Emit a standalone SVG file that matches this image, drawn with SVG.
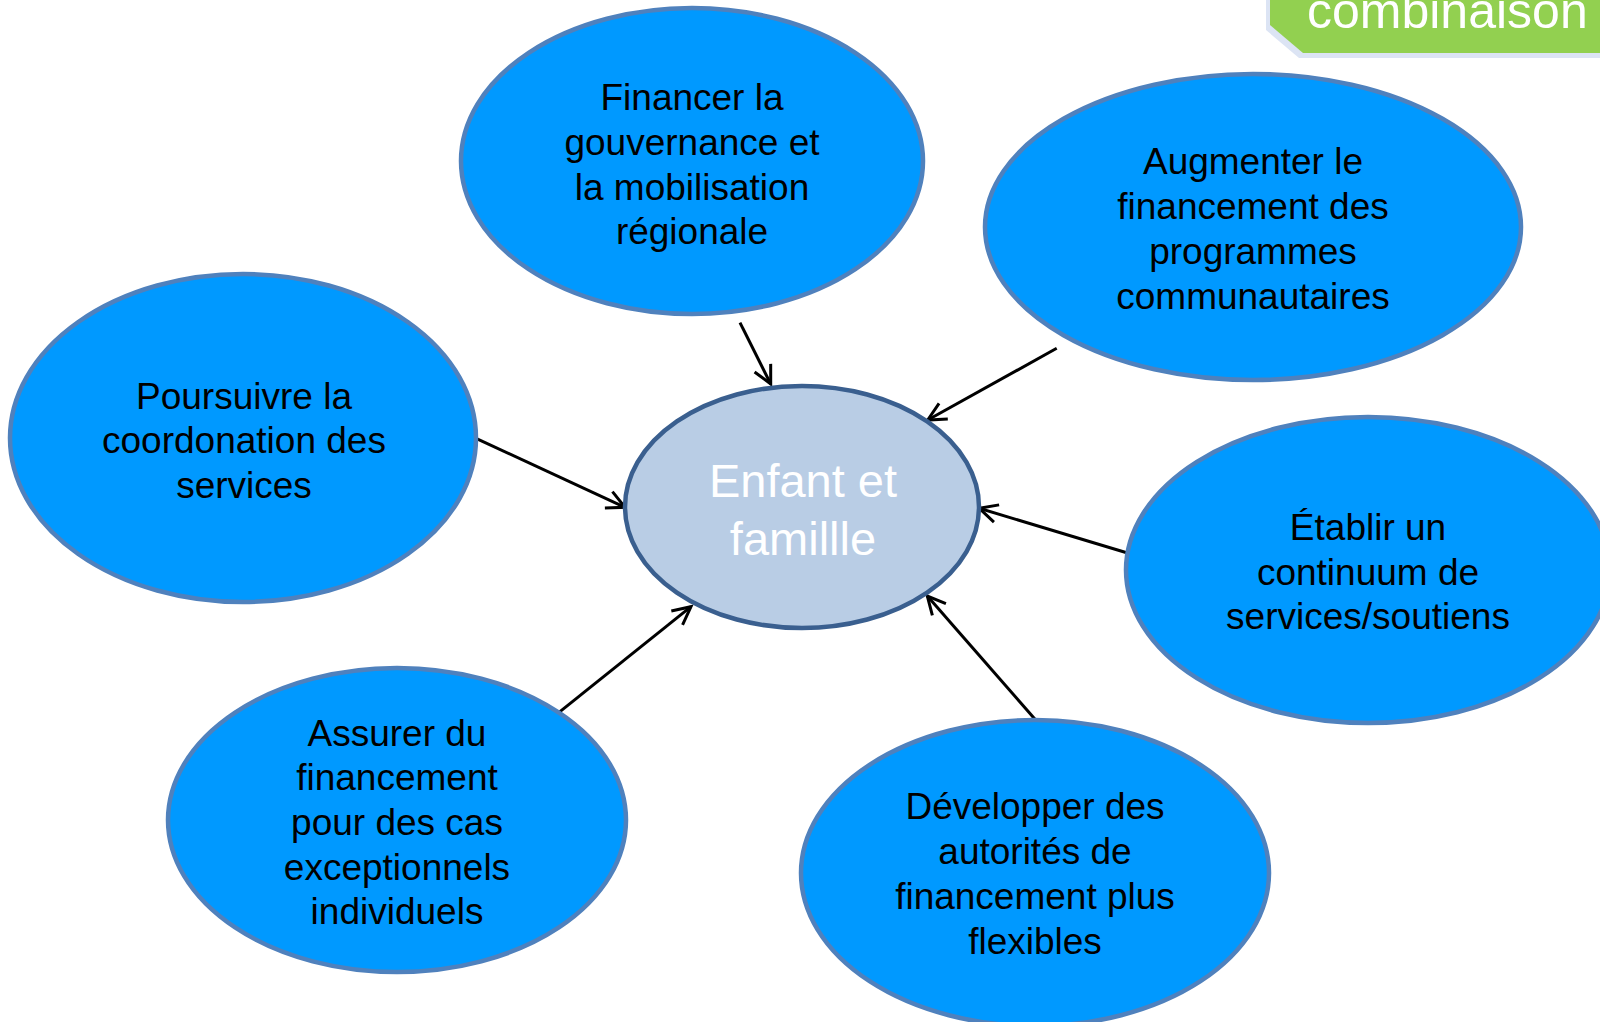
<svg xmlns="http://www.w3.org/2000/svg" width="1600" height="1022" viewBox="0 0 1600 1022">
<defs>
<style>
.node{fill:#0099FF;stroke:#4F81BD;stroke-width:4.5}
.center{fill:#B9CDE5;stroke:#3A5F8F;stroke-width:4.5}
.t{font-family:"Liberation Sans",Arial,sans-serif;font-size:37px;fill:#000;text-anchor:middle}
.ct{font-family:"Liberation Sans",Arial,sans-serif;font-size:47px;fill:#FFFFFF;text-anchor:middle}
.conn{stroke:#000;stroke-width:3;fill:none;marker-end:url(#arr)}
</style>
<marker id="arr" markerUnits="userSpaceOnUse" viewBox="-22 -13 26 26" markerWidth="26" markerHeight="26" refX="0" refY="0" orient="auto">
<path d="M-18,-9 L0,0 L-18,9" fill="none" stroke="#000" stroke-width="3"/>
</marker>
</defs>
<rect width="1600" height="1022" fill="#FFFFFF"/>
<g id="label-combinaison">
<polygon points="1266,0 1600,0 1600,58 1299,58 1266,30" fill="#DCE4F4"/>
<polygon points="1270,0 1600,0 1600,53 1303,53 1270,25" fill="#92D050"/>
<text x="1307" y="28" font-family="Liberation Sans,Arial,sans-serif" font-size="50" fill="#FFFFFF">combinaison</text>
</g>
<g id="connectors">
<line class="conn" x1="740" y1="322.7" x2="770.7" y2="384"/>
<line class="conn" x1="1056.7" y1="348.3" x2="927.7" y2="420"/>
<line class="conn" x1="476" y1="438.3" x2="625" y2="507.3"/>
<line class="conn" x1="559" y1="712.3" x2="691" y2="606.7"/>
<line class="conn" x1="1126.7" y1="552.7" x2="979.3" y2="508.3"/>
<line class="conn" x1="1035" y1="719.3" x2="927.3" y2="596"/>
</g>
<g id="node-center">
<ellipse class="center" cx="802" cy="507" rx="177" ry="121"/>
<text class="ct" x="803" y="497">Enfant et</text>
<text class="ct" x="803" y="555">famillle</text>
</g>
<g id="node-financer">
<ellipse class="node" cx="692" cy="161" rx="231" ry="153"/>
<text class="t" x="692" y="110">Financer la</text>
<text class="t" x="692" y="155">gouvernance et</text>
<text class="t" x="692" y="200">la mobilisation</text>
<text class="t" x="692" y="244">régionale</text>
</g>
<g id="node-augmenter">
<ellipse class="node" cx="1253" cy="227" rx="268" ry="153"/>
<text class="t" x="1253" y="174">Augmenter le</text>
<text class="t" x="1253" y="219">financement des</text>
<text class="t" x="1253" y="264">programmes</text>
<text class="t" x="1253" y="309">communautaires</text>
</g>
<g id="node-poursuivre">
<ellipse class="node" cx="243" cy="438" rx="233" ry="164"/>
<text class="t" x="244" y="409">Poursuivre la</text>
<text class="t" x="244" y="453">coordonation des</text>
<text class="t" x="244" y="498">services</text>
</g>
<g id="node-etablir">
<ellipse class="node" cx="1368" cy="570" rx="242" ry="153"/>
<text class="t" x="1368" y="540">Établir un</text>
<text class="t" x="1368" y="585">continuum de</text>
<text class="t" x="1368" y="629">services/soutiens</text>
</g>
<g id="node-assurer">
<ellipse class="node" cx="397" cy="820" rx="229" ry="152"/>
<text class="t" x="397" y="746">Assurer du</text>
<text class="t" x="397" y="790">financement</text>
<text class="t" x="397" y="835">pour des cas</text>
<text class="t" x="397" y="880">exceptionnels</text>
<text class="t" x="397" y="924">individuels</text>
</g>
<g id="node-developper">
<ellipse class="node" cx="1035" cy="873" rx="234" ry="153"/>
<text class="t" x="1035" y="819">Développer des</text>
<text class="t" x="1035" y="864">autorités de</text>
<text class="t" x="1035" y="909">financement plus</text>
<text class="t" x="1035" y="954">flexibles</text>
</g>
</svg>
